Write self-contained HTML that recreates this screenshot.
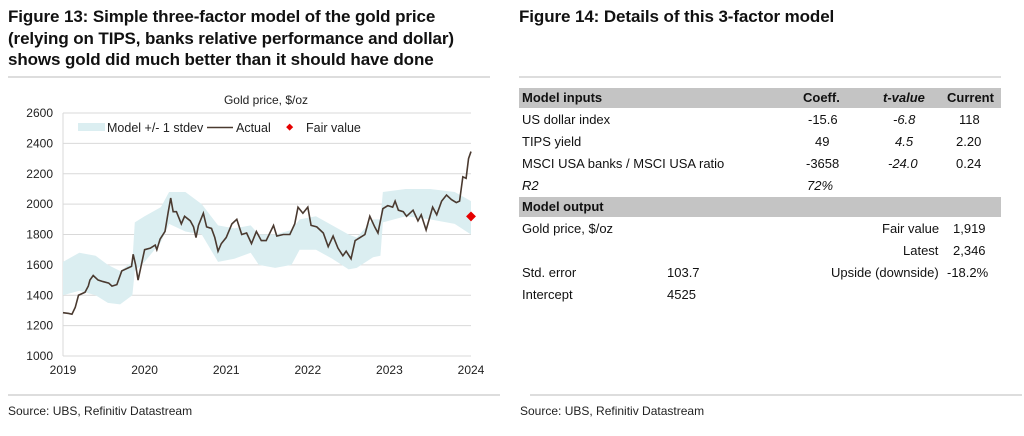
<!DOCTYPE html>
<html><head><meta charset="utf-8">
<style>
body{margin:0;width:1024px;height:436px;background:#fff;font-family:"Liberation Sans",sans-serif;color:#111;position:relative;overflow:hidden}
.t{position:absolute;font-weight:bold;font-size:17px;line-height:21.5px;letter-spacing:-0.1px}
.hr{position:absolute;height:2px;background:#ddd}
.src{position:absolute;font-size:12px;color:#222;top:404px}
.tb{position:absolute;font-size:13px}
.c{position:absolute;white-space:nowrap}
.band{position:absolute;left:519px;width:482px;height:20px;background:#c4c4c4}
</style></head><body>
<div class="t" style="left:8px;top:6px">Figure 13: Simple three-factor model of the gold price<br>(relying on TIPS, banks relative performance and dollar)<br>shows gold did much better than it should have done</div>
<div class="t" style="left:519px;top:6px">Figure 14: Details of this 3-factor model</div>
<div class="hr" style="left:8px;top:76px;width:482px"></div>
<div class="hr" style="left:519px;top:76px;width:482px"></div>
<div class="hr" style="left:8px;top:394px;width:492px"></div>
<div class="hr" style="left:530px;top:394px;width:492px"></div>
<div class="src" style="left:8px">Source: UBS, Refinitiv Datastream</div>
<div class="src" style="left:520px">Source: UBS, Refinitiv Datastream</div>

<svg id="chart" width="500" height="300" style="position:absolute;left:0;top:88px"></svg>

<div class="tb">
<div class="band" style="top:88px"></div>
<div class="band" style="top:197px"></div>
<div class="c" style="left:522px;top:90px;font-weight:bold">Model inputs</div>
<div class="c" style="left:803px;top:90px;font-weight:bold">Coeff.</div>
<div class="c" style="left:883px;top:90px;font-weight:bold;font-style:italic">t-value</div>
<div class="c" style="left:947px;top:90px;font-weight:bold">Current</div>
<div class="c" style="left:522px;top:112px">US dollar index</div>
<div class="c" style="left:808px;top:112px">-15.6</div>
<div class="c" style="left:893px;top:112px;font-style:italic">-6.8</div>
<div class="c" style="left:959px;top:112px">118</div>
<div class="c" style="left:522px;top:134px">TIPS yield</div>
<div class="c" style="left:815px;top:134px">49</div>
<div class="c" style="left:895px;top:134px;font-style:italic">4.5</div>
<div class="c" style="left:956px;top:134px">2.20</div>
<div class="c" style="left:522px;top:156px">MSCI USA banks / MSCI USA ratio</div>
<div class="c" style="left:806px;top:156px">-3658</div>
<div class="c" style="left:888px;top:156px;font-style:italic">-24.0</div>
<div class="c" style="left:956px;top:156px">0.24</div>
<div class="c" style="left:522px;top:178px;font-style:italic">R2</div>
<div class="c" style="left:807px;top:178px;font-style:italic">72%</div>
<div class="c" style="left:522px;top:199px;font-weight:bold">Model output</div>
<div class="c" style="left:522px;top:221px">Gold price, $/oz</div>
<div class="c" style="left:882px;top:221px">Fair value</div>
<div class="c" style="left:953px;top:221px">1,919</div>
<div class="c" style="left:903px;top:243px">Latest</div>
<div class="c" style="left:953px;top:243px">2,346</div>
<div class="c" style="left:522px;top:265px">Std. error</div>
<div class="c" style="left:667px;top:265px">103.7</div>
<div class="c" style="left:831px;top:265px">Upside (downside)</div>
<div class="c" style="left:947px;top:265px">-18.2%</div>
<div class="c" style="left:522px;top:287px">Intercept</div>
<div class="c" style="left:667px;top:287px">4525</div>
</div>

<script>
const yTicks=[1000,1200,1400,1600,1800,2000,2200,2400,2600];
const xTicks=[2019,2020,2021,2022,2023,2024];
const actualT=[0,.07,.11,.15,.19,.27,.31,.33,.37,.43,.49,.56,.60,.66,.72,.80,.84,.86,.89,.92,.96,1.00,1.07,1.13,1.15,1.19,1.25,1.29,1.32,1.35,1.39,1.45,1.49,1.56,1.60,1.63,1.66,1.72,1.76,1.82,1.86,1.90,1.94,2.00,2.07,2.13,2.19,2.25,2.31,2.37,2.43,2.49,2.58,2.62,2.70,2.78,2.84,2.88,2.94,3.00,3.04,3.11,3.19,3.25,3.31,3.37,3.43,3.47,3.53,3.58,3.64,3.70,3.76,3.82,3.86,3.92,3.98,4.04,4.07,4.11,4.17,4.21,4.29,4.35,4.39,4.45,4.53,4.58,4.64,4.70,4.76,4.82,4.86,4.90,4.94,4.97,5.00];
const actualV=[1285,1280,1275,1320,1400,1420,1460,1500,1530,1500,1490,1480,1460,1470,1560,1580,1590,1670,1600,1500,1600,1700,1710,1730,1700,1770,1820,1950,2040,1950,1950,1870,1920,1890,1850,1780,1860,1940,1850,1840,1780,1690,1740,1780,1870,1900,1800,1810,1740,1820,1760,1760,1860,1790,1800,1800,1870,1980,1940,1980,1860,1850,1810,1720,1790,1710,1660,1690,1640,1760,1780,1800,1920,1850,1810,1970,1990,1980,2020,1960,1950,1920,1960,1890,1930,1830,1980,1930,2020,2060,2030,2010,2020,2180,2170,2300,2346];
const bandT=[0,.2,.4,.55,.7,.85,.88,1.0,1.2,1.3,1.5,1.7,1.9,2.1,2.3,2.4,2.6,2.8,2.9,3.1,3.3,3.5,3.6,3.8,3.89,3.92,4.2,4.5,4.8,5.0];
const bandHi=[1620,1680,1660,1600,1560,1620,1880,1920,1980,2080,2080,2000,1860,1840,1860,1800,1800,1830,1900,1920,1860,1800,1780,1900,1900,2080,2100,2100,2080,2020];
const bandLo=[1400,1430,1400,1350,1340,1400,1560,1620,1750,1870,1820,1800,1620,1640,1680,1600,1580,1600,1700,1700,1640,1570,1580,1650,1660,1880,1920,1900,1870,1800];
const fairT=[5.0], fairV=[1919];

const NS="http://www.w3.org/2000/svg";
const svg=document.getElementById('chart');
const L=63,R=471,T=25,B=268;
const x=t=>L+(t/5)*(R-L);
const y=v=>B-(v-1000)/1600*(B-T);
function mk(tag,attrs,parent){const e=document.createElementNS(NS,tag);for(const k in attrs)e.setAttribute(k,attrs[k]);(parent||svg).appendChild(e);return e;}
let e=mk('text',{x:266,y:16,'font-size':12,'text-anchor':'middle',fill:'#222'});e.textContent='Gold price, $/oz';


yTicks.forEach(v=>{
  const g=mk('line',{x1:L,x2:R,y1:y(v),y2:y(v),stroke:'#d9d9d9','stroke-width':1});
  
  
  const t=mk('text',{x:L-10,y:y(v)+4,'font-size':12,'text-anchor':'end',fill:'#222'});t.textContent=v;
  
  
});
mk('line',{x1:L,x2:L,y1:T,y2:B,stroke:'#d9d9d9'});
xTicks.forEach(yr=>{
  const t=mk('text',{x:x(yr-2019),y:B+18,'font-size':12,'text-anchor':'middle',fill:'#222'});t.textContent=yr;
  
  
});
let d='M'+bandT.map((t,i)=>x(t)+','+y(bandHi[i])).join('L');
for(let i=bandT.length-1;i>=0;i--)d+='L'+x(bandT[i])+','+y(bandLo[i]);
const band=mk('path',{d:d+'Z',fill:'#dbeef1'});


const line=mk('path',{d:'M'+actualT.map((t,i)=>x(t)+','+y(actualV[i])).join('L'),fill:'none',stroke:'#4a3a30','stroke-width':1.6});


fairT.forEach((t,i)=>{
  const p=mk('rect',{x:x(t)-3.5,y:y(fairV[i])-3.5,width:7,height:7,fill:'#e60000',transform:`rotate(45 ${x(t)} ${y(fairV[i])})`});
  
  
});
const lg=mk('g',{});


mk('rect',{x:78,y:35,width:27,height:8,fill:'#dbeef1'},lg);
let lt=mk('text',{x:107,y:44,'font-size':12.5,fill:'#222'},lg);lt.textContent='Model +/- 1 stdev';
mk('line',{x1:207,x2:233,y1:39.5,y2:39.5,stroke:'#4a3a30','stroke-width':1.6},lg);
lt=mk('text',{x:236,y:44,'font-size':12.5,fill:'#222'},lg);lt.textContent='Actual';
mk('rect',{x:287,y:37,width:5,height:5,fill:'#e60000',transform:'rotate(45 290 39.5)'},lg);
lt=mk('text',{x:306,y:44,'font-size':12.5,fill:'#222'},lg);lt.textContent='Fair value';
</script>
</body></html>
